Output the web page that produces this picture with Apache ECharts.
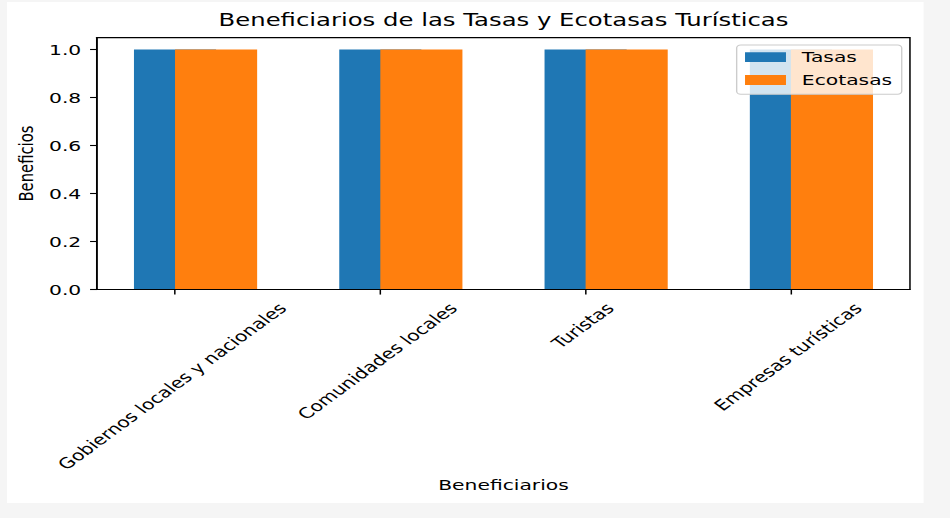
<!DOCTYPE html>
<html><head><meta charset="utf-8">
<script src="https://cdn.jsdelivr.net/npm/echarts@6/dist/echarts.min.js"></script>
<style>
html,body{margin:0;padding:0;background:#f5f5f5;width:950px;height:518px;overflow:hidden;}
#card{position:absolute;left:7px;top:2px;width:669px;height:501px;background:#fff;transform:scaleX(1.37);transform-origin:0 0;}
</style></head><body><div id="card"></div>
<script>
const chartTitle = 'Beneficiarios de las Tasas y Ecotasas Turísticas';
const categories = ['Gobiernos locales y nacionales', 'Comunidades locales', 'Turistas', 'Empresas turísticas'];
const seriesNames = ['Tasas', 'Ecotasas'];
const tasas = [1, 1, 1, 1];
const ecotasas = [1, 1, 1, 1];
const yTicks = [0, 0.2, 0.4, 0.6, 0.8, 1.0];
const xAxisTitle = 'Beneficiarios';
const yAxisTitle = 'Beneficios';

const FONT = '"DejaVu Sans"';
const FS = 14.8;
const PT = 1.45;
const BAR_W = 0.4;
const measureCtx = document.createElement('canvas').getContext('2d');
measureCtx.font = FS + 'px ' + FONT;
function textWidth(s) { return measureCtx.measureText(s).width; }

function barRenderer(offset, color) {
  return function (params, api) {
    const x = api.value(0), y = api.value(1);
    const p0 = api.coord([x + offset - BAR_W / 2, y]);
    const p1 = api.coord([x + offset + BAR_W / 2, 0]);
    return { type: 'rect', shape: { x: p0[0], y: p0[1], width: p1[0] - p0[0], height: p1[1] - p0[1] }, style: { fill: color } };
  };
}

const catIdx = categories.map((c, i) => i);
const chart = echarts.init(document.getElementById('card'), null, { renderer: 'svg' });
chart.setOption({
  animation: false,
  backgroundColor: '#ffffff',
  title: {
    text: chartTitle, left: 362.4, top: 9, padding: 0, textAlign: 'center',
    textStyle: { fontFamily: FONT, fontSize: FS * 1.2, fontWeight: 'normal', color: '#000' }
  },
  legend: {
    data: seriesNames, orient: 'vertical', left: 532.6, top: 43, padding: [4.6, 7, 6.8, 6.1],
    itemWidth: 29.9, itemHeight: 9.8, itemGap: 7.9, icon: 'rect', selectedMode: false,
    backgroundColor: 'rgba(255,255,255,0.8)', borderColor: '#cccccc', borderWidth: 1, borderRadius: 3,
    textStyle: { fontFamily: FONT, fontSize: FS, color: '#000', padding: [0, 0, 0, 6.6] }
  },
  grid: {
    left: 65.7, right: 9.9, top: 35.6, bottom: 213.5, show: true, borderColor: '#000', borderWidth: 1.1,
    backgroundColor: 'transparent', containLabel: false, outerBoundsMode: 'none'
  },
  xAxis: {
    type: 'value', min: -0.38, max: 3.58, z: 5,
    axisLine: { show: true, onZero: false, lineStyle: { color: '#000', width: 1.1 } },
    axisTick: { show: true, customValues: catIdx, length: 3.5 * PT, lineStyle: { color: '#000', width: 1.1 } },
    axisLabel: { show: false },
    splitLine: { show: false },
    name: xAxisTitle, nameLocation: 'middle', nameGap: 187.5, nameMoveOverlap: false,
    nameTextStyle: { fontFamily: FONT, fontSize: FS, color: '#000' }
  },
  yAxis: {
    type: 'value', min: 0, max: 1.05, z: 5,
    axisLine: { show: true, onZero: false, lineStyle: { color: '#000', width: 1.1 } },
    axisTick: { show: true, customValues: yTicks, length: 3.5 * PT, lineStyle: { color: '#000', width: 1.1 } },
    axisLabel: { customValues: yTicks, formatter: v => Number(v).toFixed(1), margin: 11.5, fontFamily: FONT, fontSize: FS, color: '#000' },
    splitLine: { show: false },
    name: yAxisTitle, nameLocation: 'middle', nameGap: 44.5, nameMoveOverlap: false,
    nameTextStyle: { fontFamily: FONT, fontSize: FS, color: '#000' }
  },
  series: [
    { name: seriesNames[0], type: 'custom', itemStyle: { color: '#1f77b4' }, encode: { x: 0, y: 1 },
      data: tasas.map((v, i) => [i, v]), renderItem: barRenderer(0, '#1f77b4') },
    { name: seriesNames[1], type: 'custom', itemStyle: { color: '#ff7f0e' }, encode: { x: 0, y: 1 },
      data: ecotasas.map((v, i) => [i, v]), renderItem: barRenderer(BAR_W / 2, '#ff7f0e') },
    { name: 'labels', type: 'custom', silent: true, clip: false, z: 6, encode: { x: 0, y: 1 },
      data: categories.map((c, i) => [i, 0]),
      renderItem: function (params, api) {
        const p = api.coord([api.value(0), 0]);
        const name = categories[params.dataIndex];
        const L = textWidth(name);
        const h = FS * 1.164;
        const cy = p[1] + 7 * PT + 0.3536 * (L + h);
        return { type: 'text', x: p[0] - 2, y: cy, rotation: Math.PI / 4,
          style: { text: name, font: FS + 'px ' + FONT, fill: '#000', align: 'center', verticalAlign: 'middle' } };
      } }
  ]
});
</script></body></html>
